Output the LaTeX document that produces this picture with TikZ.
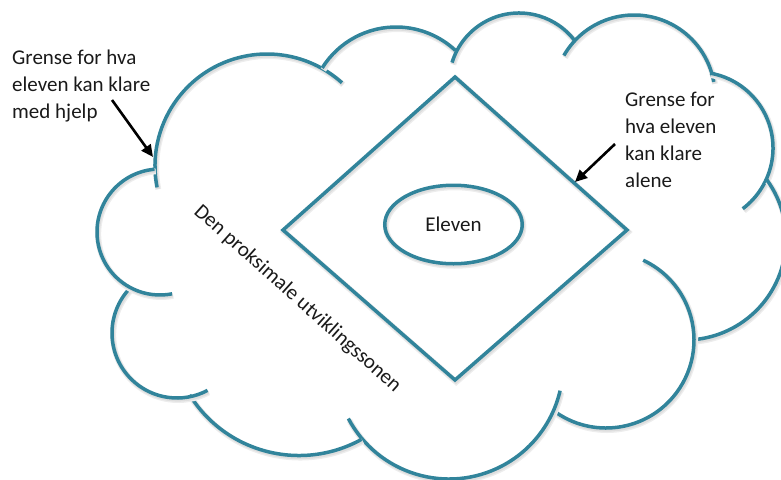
\documentclass[tikz,border=0pt]{standalone}
\usepackage{fontspec}
\setmainfont{Carlito}
\usetikzlibrary{arrows.meta,shapes.geometric}
\definecolor{zpdteal}{HTML}{31849B}
\definecolor{inktext}{HTML}{1A1A1A}
% one circular lobe of the cloud: centre x, centre y, radius, start angle, end angle
\newcommand\cloudlobe[5]{\draw[outline] (#1,#2) ++(#4:#3) arc[start angle=#4, end angle=#5, radius=#3];}
\begin{document}
\begin{tikzpicture}[x=1pt,y=-1pt,
  outline/.style={draw=zpdteal, line width=3.5pt,
    preaction={draw=black!7, line width=6pt, transform canvas={xshift=1.2pt,yshift=-2pt}},
    preaction={draw=black!13, line width=4pt, transform canvas={xshift=1pt,yshift=-1.6pt}}},
  lbl/.style={font=\fontsize{21}{27}\selectfont, text=inktext, align=left, inner sep=0pt},
  pointer/.style={draw=black, line width=2.6pt, -{Triangle[length=12pt,width=11pt]}}
]
\useasboundingbox (0,0) rectangle (781,479);

% cloud outline, lobe by lobe (clockwise from the upper left)
\cloudlobe{267}{166}{112}{169}{312}
\cloudlobe{396}{114}{87}{212}{313}
\cloudlobe{519}{83}{70}{197}{322}
\cloudlobe{634}{96}{81}{210}{350}
\cloudlobe{697}{148}{76}{-80}{53}
\cloudlobe{685}{239}{101}{-36}{84}
\cloudlobe{606}{340}{88}{127}{-65}
\cloudlobe{449}{365}{114}{152}{13}
\cloudlobe{299}{326.5}{129}{148}{61}
\cloudlobe{177}{333}{65}{224}{62}
\cloudlobe{160}{232}{63}{265}{79}

% inner diamond
\coordinate (dT) at (455,77);
\coordinate (dR) at (627,230);
\coordinate (dB) at (455,380);
\coordinate (dL) at (283,230);
\draw[outline, line join=miter] (dT) -- (dR) -- (dB) -- (dL) -- cycle;

% centre ellipse
\node[outline, lbl, ellipse, minimum width=137.5pt, minimum height=78.5pt] (elev) at (453.5,224.5) {Eleven};

% zone label along the lower left
\node[lbl, rotate=-41.8] (zone) at (297.5,299) {Den proksimale utviklingssonen};

% side labels
\node[lbl, anchor=north west] (helpLbl) at (12,50) {Grense for hva\\eleven kan klare\\med hjelp};
\node[lbl, anchor=north west] (aloneLbl) at (625,92) {Grense for\\hva eleven\\kan klare\\alene};

% pointers
\coordinate (helpTail) at (112,100);
\coordinate (helpTip) at (153,157);
\draw[pointer] (helpTail) -- (helpTip);
\coordinate (aloneTail) at (615,144);
\coordinate (aloneTip) at (575,182);
\draw[pointer] (aloneTail) -- (aloneTip);
\end{tikzpicture}
\end{document}
